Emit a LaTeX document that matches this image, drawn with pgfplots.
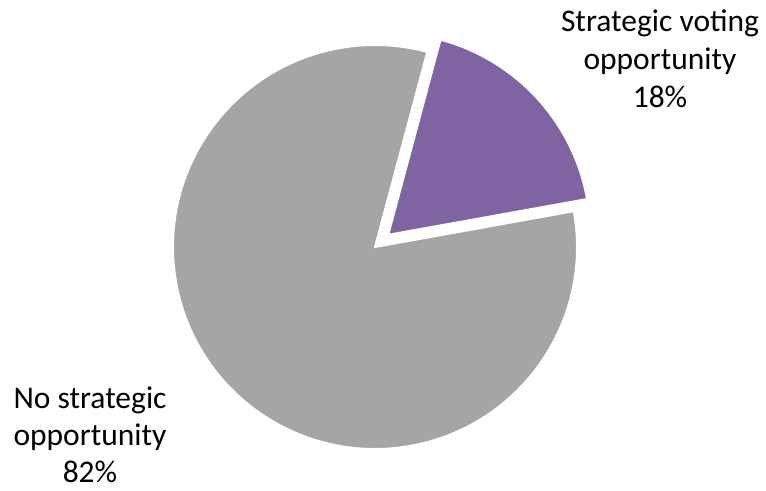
\documentclass[border=0pt]{standalone}
\usepackage{pgfplots}
\pgfplotsset{compat=1.18}
\usetikzlibrary{calc}
\usepackage{fontspec}
\setmainfont{Carlito}
\definecolor{piepurple}{HTML}{8064A2}
\definecolor{piegray}{HTML}{A5A5A5}
\begin{document}
\begin{tikzpicture}
% shares (percent)
\pgfmathsetmacro{\shareA}{18}% Strategic voting opportunity
\pgfmathsetmacro{\shareB}{82}% No strategic opportunity
\pgfmathsetmacro{\startang}{75}
\pgfmathsetmacro{\midang}{\startang-3.6*\shareA}
\pgfmathsetmacro{\endang}{\midang-3.6*\shareB}
\pgfmathsetmacro{\bisect}{(\startang+\midang)/2}
\begin{axis}[
  hide axis, scale only axis,
  width=766bp, height=491bp,
  xmin=0, xmax=766, ymin=0, ymax=491,
  clip=false,
]
\addplot[draw=none] coordinates {(0,0) (766,491)};
% gray slice
\fill[piegray, draw=white, line width=2bp]
  (axis cs:375,244) -- ++(\midang:202bp) arc[start angle=\midang, end angle=\endang, radius=202bp] -- cycle;
% purple slice (exploded)
\fill[piepurple, draw=white, line width=2bp]
  ($(axis cs:375,244)+(\bisect:18bp)$) -- ++(\startang:202bp) arc[start angle=\startang, end angle=\midang, radius=202bp] -- cycle;
\tikzset{lab/.style={anchor=base, inner sep=0pt, text depth=0pt, font=\fontsize{31.5bp}{38bp}\selectfont}}
\node[lab] at (axis cs:660,459) {Strategic voting};
\node[lab] at (axis cs:660,421) {opportunity};
\node[lab] at (axis cs:660,383) {18\%};
\node[lab] at (axis cs:90,82) {No strategic};
\node[lab] at (axis cs:90,45) {opportunity};
\node[lab] at (axis cs:90,9) {82\%};
\end{axis}
\end{tikzpicture}
\end{document}
